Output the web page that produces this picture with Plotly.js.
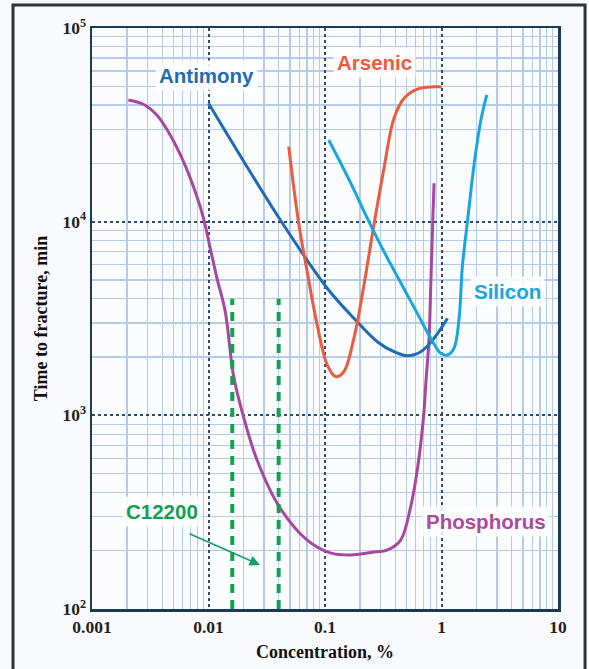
<!DOCTYPE html>
<html>
<head>
<meta charset="utf-8">
<script src="https://cdn.plot.ly/plotly-3.0.1.min.js"></script>
<style>
html,body{margin:0;padding:0;background:#f8fafd;}
#chart{width:589px;height:669px;}
</style>
</head>
<body>
<div id="chart"></div>
<script>
// ---- data ----
const phosC = [0.00205, 0.00276, 0.0036, 0.00469, 0.0061, 0.00769, 0.00907, 0.01035, 0.01183, 0.01393, 0.0164, 0.02, 0.0261, 0.0407, 0.0703, 0.111, 0.166, 0.25, 0.345, 0.446, 0.543, 0.625, 0.703, 0.732, 0.782, 0.809, 0.841, 0.863];
const phosT = [42500, 40400, 35500, 28000, 20400, 14300, 10400, 7290, 5100, 3430, 1600, 980, 588, 336, 227, 195, 190, 196, 202, 227, 336, 541, 1000, 1435, 2500, 4710, 10000, 15800];

const antiC = [0.01, 0.0414, 0.1045, 0.177, 0.281, 0.391, 0.509, 0.664, 0.863, 1.125];
const antiT = [40900, 10200, 4530, 3170, 2400, 2130, 2030, 2130, 2500, 3170];

const arsC = [0.0488, 0.0592, 0.0703, 0.0857, 0.1045, 0.123, 0.145, 0.177, 0.216, 0.263, 0.321, 0.391, 0.476, 0.621, 0.862, 1.0];
const arsT = [24400, 10000, 5520, 2930, 1820, 1585, 1680, 2500, 4710, 9610, 18900, 34200, 43300, 48400, 49700, 49700];

const silC = [0.1077, 0.1656, 0.231, 0.321, 0.446, 0.621, 0.809, 0.986, 1.125, 1.28, 1.416, 1.51, 1.67, 1.91, 2.18, 2.45];
const silT = [26400, 15900, 10400, 7000, 4850, 3350, 2500, 2090, 2050, 2220, 3170, 5860, 10000, 20000, 33500, 45100];

const c12200Low = [0.016, 0.016];
const c12200High = [0.04, 0.04];
const c12200T = [100, 4000];

const xTickVals = [0.001, 0.01, 0.1, 1, 10];
const xTickText = ['0.001', '0.01', '0.1', '1', '10'];
const yTickVals = [100, 1000, 10000, 100000];
const yTickText = ['10<sup>2</sup>', '10<sup>3</sup>', '10<sup>4</sup>', '10<sup>5</sup>'];

// minor grid values (2..9 within each decade)
function minorVals(decades){
  const out = [];
  for (let i = 0; i < decades.length - 1; i++){
    for (let k = 2; k <= 9; k++) out.push(decades[i] * k);
  }
  return out;
}

const serif = 'Liberation Serif, Times New Roman, serif';
const sans = 'Liberation Sans, Arial, sans-serif';

const lineW = 3;
const sm = 1.0;
const traces = [
  {x: phosC, y: phosT, mode: 'lines', line: {color: '#a8479f', width: lineW, shape: 'spline', smoothing: sm}, name: 'Phosphorus'},
  {x: antiC, y: antiT, mode: 'lines', line: {color: '#1f6bb5', width: lineW, shape: 'spline', smoothing: sm}, name: 'Antimony'},
  {x: arsC, y: arsT, mode: 'lines', line: {color: '#ec5b3d', width: lineW, shape: 'spline', smoothing: sm}, name: 'Arsenic'},
  {x: silC, y: silT, mode: 'lines', line: {color: '#17a6df', width: lineW, shape: 'spline', smoothing: sm}, name: 'Silicon'},
  {x: c12200Low, y: c12200T, mode: 'lines', line: {color: '#13a04f', width: 4, dash: '9px,7px'}, name: 'C12200 low'},
  {x: c12200High, y: c12200T, mode: 'lines', line: {color: '#13a04f', width: 4, dash: '9px,7px'}, name: 'C12200 high'}
];

const labelFont = (c) => ({family: sans, size: 20.5, color: c, weight: 700});
const lbl = (text, x, y, c) => ({
  text: text, xref: 'paper', yref: 'paper', x: x, y: y, xanchor: 'center', yanchor: 'middle', showarrow: false,
  font: labelFont(c), bgcolor: 'rgba(255,255,255,0.85)', borderpad: 3
});

const layout = {
  width: 589, height: 669,
  margin: {l: 92, r: 31, t: 28, b: 60},
  paper_bgcolor: '#f8fafd',
  plot_bgcolor: '#fbfcfe',
  showlegend: false,
  xaxis: {
    type: 'log', range: [-3, 1],
    tickmode: 'array', tickvals: xTickVals, ticktext: xTickText,
    ticks: '', showline: true, mirror: true, linecolor: '#1b3a55', linewidth: 2.5,
    showgrid: true, gridcolor: '#2d4c70', gridwidth: 2, griddash: 'dot',
    minor: {tickmode: 'array', tickvals: minorVals(xTickVals), showgrid: true, gridcolor: '#b5cbe7', gridwidth: 1.2, griddash: 'solid', ticks: ''},
    tickfont: {family: serif, size: 17.5, color: '#222', weight: 700},
    zeroline: false,
    title: {text: 'Concentration, %', font: {family: serif, size: 18, color: '#111', weight: 700}, standoff: 10}
  },
  yaxis: {
    type: 'log', range: [2, 5],
    tickmode: 'array', tickvals: yTickVals, ticktext: yTickText,
    ticks: '', showline: true, mirror: true, linecolor: '#1b3a55', linewidth: 2.5,
    showgrid: true, gridcolor: '#2d4c70', gridwidth: 2, griddash: 'dot',
    minor: {tickmode: 'array', tickvals: minorVals(yTickVals), showgrid: true, gridcolor: '#b5cbe7', gridwidth: 1.2, griddash: 'solid', ticks: ''},
    tickfont: {family: serif, size: 17.5, color: '#222', weight: 700},
    zeroline: false,
    title: {text: 'Time to fracture, min', font: {family: serif, size: 18, color: '#111', weight: 700}, standoff: 10}
  },
  annotations: [
    lbl('Antimony', 0.245, 0.919, '#1f6bb5'),
    lbl('Arsenic', 0.607, 0.941, '#ec5b3d'),
    lbl('Silicon', 0.891, 0.546, '#17a6df'),
    lbl('Phosphorus', 0.845, 0.150, '#ab4aa2'),
    lbl('C12200', 0.150, 0.167, '#13a04f'),
    {text: '', xref: 'paper', yref: 'paper', x: 0.3605, y: 0.0757, ax: -72, ay: -32,
     showarrow: true, arrowhead: 2, arrowsize: 1.3, arrowwidth: 1.6, arrowcolor: '#13a06a', standoff: 0}
  ],
  shapes: [
    {type: 'rect', xref: 'paper', yref: 'paper', x0: -0.1695, x1: 1.058, y0: -0.2, y1: 1.0396,
     line: {color: '#333333', width: 3}, fillcolor: 'rgba(0,0,0,0)', layer: 'below'}
  ]
};

Plotly.newPlot('chart', traces, layout, {displayModeBar: false, staticPlot: true});
</script>
</body>
</html>
